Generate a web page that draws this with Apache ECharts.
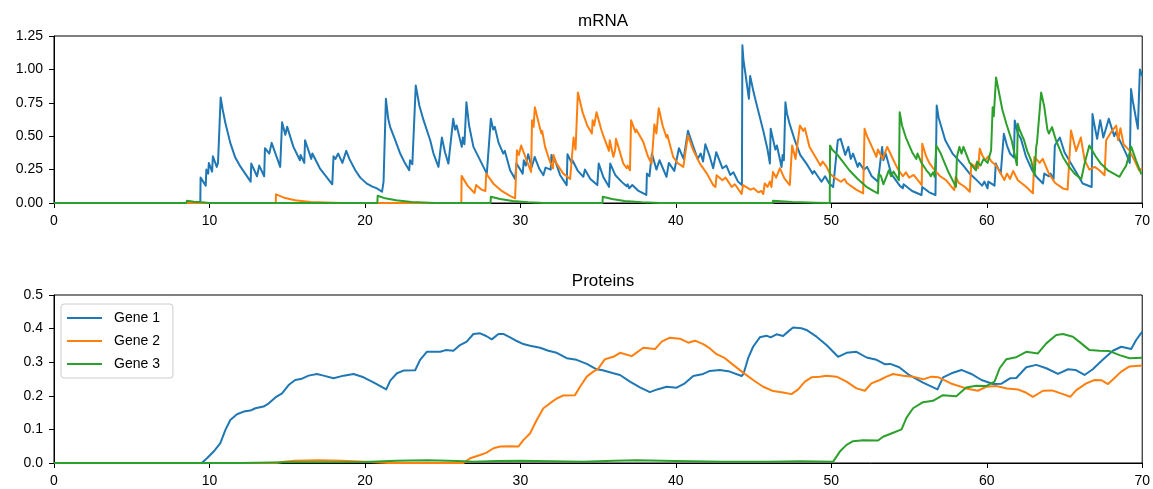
<!DOCTYPE html>
<html>
<head>
<meta charset="utf-8">
<script src="https://cdn.jsdelivr.net/npm/echarts@6/dist/echarts.min.js"></script>
<style>
  html, body { margin: 0; padding: 0; background: #fff; }
  #chart { width: 1153px; height: 489px; }
</style>
</head>
<body>
<div id="chart"></div>
<script>
// Stochastic gene-expression run: mRNA bursts (top) and protein levels (bottom), [time, level].
const geneNames = ['Gene 1', 'Gene 2', 'Gene 3'];
const geneColors = ['#1f77b4', '#ff7f0e', '#2ca02c'];

const mrnaGene1 = [
  [0,0],[9.41,0],[9.43,0.19],[9.76,0.13],[9.8,0.25],[9.92,0.22],[9.96,0.30],[10.17,0.235],[10.22,0.35],[10.47,0.27],
  [10.55,0.30],[10.6,0.29],[10.72,0.79],[10.85,0.70],[11.02,0.60],[11.34,0.45],[11.66,0.34],[11.95,0.28],[12.0,0.29],
  [12.3,0.22],[12.65,0.16],[12.69,0.295],[13.06,0.20],[13.2,0.28],[13.52,0.20],[13.57,0.41],[13.85,0.37],[14.0,0.45],
  [14.55,0.27],[14.67,0.605],[14.88,0.51],[15.0,0.57],[15.4,0.42],[15.82,0.32],[15.86,0.36],[16.1,0.30],[16.15,0.47],
  [16.55,0.33],[16.62,0.37],[17.1,0.26],[17.5,0.20],[17.55,0.21],[17.9,0.14],[17.98,0.35],[18.1,0.33],[18.28,0.37],
  [18.55,0.30],[18.8,0.39],[19.0,0.33],[19.38,0.245],[19.7,0.19],[20.1,0.147],[20.15,0.16],[20.45,0.125],[20.77,0.109],
  [21.1,0.084],[21.2,0.16],[21.35,0.78],[21.5,0.63],[21.62,0.57],[21.7,0.58],[21.95,0.47],[22.27,0.37],[22.59,0.295],
  [22.85,0.245],[22.9,0.32],[23.05,0.29],[23.27,0.88],[23.5,0.73],[23.77,0.62],[23.85,0.62],[24.2,0.47],[24.41,0.37],
  [24.73,0.27],[24.95,0.49],[25.15,0.38],[25.37,0.295],[25.68,0.63],[25.8,0.55],[25.9,0.58],[26.23,0.42],[26.3,0.49],[26.4,0.44],
  [26.53,0.754],[26.7,0.58],[26.98,0.42],[27.52,0.295],[27.84,0.22],[28.1,0.63],[28.25,0.55],[28.35,0.57],[28.6,0.45],[28.9,0.37],[29.0,0.39],
  [29.34,0.245],[29.66,0.18],[29.75,0.295],[30.15,0.22],[30.22,0.32],[30.35,0.28],[30.5,0.365],[30.73,0.27],[30.92,0.345],
  [31.2,0.26],[31.48,0.208],[31.62,0.265],[31.95,0.25],[32.0,0.36],[32.15,0.31],[32.2,0.33],[32.55,0.21],[32.98,0.134],[33.03,0.365],[33.3,0.30],
  [33.35,0.32],[33.7,0.24],[34.05,0.196],[34.1,0.19],[34.15,0.25],[34.5,0.18],[34.95,0.134],[35.04,0.295],[35.35,0.19],[35.7,0.121],[35.78,0.295],[36.1,0.21],[36.5,0.16],
  [36.84,0.125],[36.9,0.14],[37.0,0.11],[37.2,0.135],[37.6,0.09],[38.1,0.06],[38.14,0.22],[38.3,0.2],[38.46,0.37],[38.75,0.25],
  [38.95,0.32],[39.4,0.196],[39.55,0.3],[39.9,0.24],[40.2,0.41],[40.5,0.33],[40.78,0.54],[41.1,0.43],[41.4,0.33],
  [41.6,0.37],[41.75,0.31],[41.9,0.44],[42.19,0.345],[42.4,0.26],[42.6,0.38],[43.0,0.26],[43.25,0.28],[43.5,0.21],
  [43.7,0.23],[44.0,0.16],[44.25,0.134],[44.28,1.18],[44.35,1.07],[44.48,0.965],[44.7,0.78],[44.78,0.95],[45.0,0.83],[45.19,0.74],[45.62,0.543],
  [45.9,0.4],[46.05,0.295],[46.1,0.556],[46.4,0.4],[46.5,0.43],[46.8,0.27],[46.87,0.36],[46.95,0.32],[47.05,0.754],
  [47.15,0.67],[47.3,0.6],[47.65,0.47],[48.0,0.36],[48.4,0.295],[48.8,0.22],[48.9,0.24],[49.37,0.159],[49.6,0.2],[49.85,0.15],[50.12,0.119],
  [50.42,0.47],[50.6,0.48],[50.9,0.36],[51.1,0.42],[51.25,0.33],[51.4,0.37],[51.7,0.27],[51.8,0.3],[52.1,0.25],
  [52.3,0.27],[52.6,0.2],[53.0,0.16],[53.27,0.42],[53.35,0.32],[53.5,0.37],[53.85,0.22],[54.4,0.13],[54.6,0.11],
  [54.65,0.14],[55.2,0.09],[55.8,0.06],[55.85,0.12],[56.3,0.08],[56.7,0.06],[56.78,0.73],[56.9,0.64],[57.0,0.6],[57.33,0.47],[57.8,0.37],[58.47,0.283],
  [58.9,0.22],[59.24,0.184],[59.7,0.13],[59.85,0.16],[60.05,0.109],[60.1,0.16],[60.5,0.13],[60.58,0.295],[60.9,0.22],
  [61.1,0.518],[61.3,0.43],[61.5,0.37],[61.75,0.34],[61.8,0.617],[62.0,0.52],[62.2,0.48],[62.53,0.345],[62.9,0.25],[63.19,0.196],
  [63.62,0.146],[63.7,0.22],[64.0,0.2],[64.1,0.22],[64.3,0.18],[64.38,0.43],[64.7,0.49],[65.0,0.38],[65.4,0.3],
  [65.8,0.22],[66.17,0.146],[66.75,0.12],[66.8,0.667],[66.9,0.6],[67.1,0.48],[67.3,0.62],[67.5,0.49],[67.85,0.63],
  [68.2,0.5],[68.3,0.53],[68.76,0.42],[69.0,0.36],[69.2,0.3],[69.28,0.853],[69.4,0.76],[69.72,0.556],[69.85,1.0],[70,0.95]
];

const mrnaGene2 = [
  [0,0],[14.26,0],[14.28,0.065],[14.8,0.04],[15.5,0.02],[16.5,0.008],[17.5,0.003],[18.5,0],[26.2,0],[26.22,0.203],
  [26.6,0.13],[27.05,0.075],[27.15,0.134],[27.5,0.1],[27.75,0.09],[27.8,0.22],[28.3,0.14],[28.8,0.09],[29.3,0.055],
  [29.66,0.035],[29.78,0.394],[29.9,0.36],[30.05,0.43],[30.4,0.32],[30.69,0.233],[30.75,0.62],[30.85,0.57],[30.93,0.717],
  [31.27,0.556],[31.35,0.52],[31.4,0.54],[31.59,0.42],[31.91,0.307],[32.1,0.26],[32.13,0.36],[32.3,0.3],[32.76,0.22],
  [33.2,0.18],[33.42,0.49],[33.55,0.4],[33.7,0.828],[34.0,0.68],[34.3,0.58],[34.6,0.52],[34.65,0.62],[34.75,0.58],
  [34.9,0.68],[35.2,0.55],[35.44,0.47],[35.7,0.39],[35.75,0.47],[35.98,0.345],[36.1,0.4],[36.15,0.48],[36.62,0.295],
  [36.84,0.26],[36.9,0.28],[37.05,0.245],[37.12,0.62],[37.4,0.53],[37.45,0.55],[37.91,0.456],[38.2,0.35],[38.44,0.295],
  [38.62,0.59],[38.75,0.52],[38.9,0.71],[39.15,0.58],[39.4,0.49],[39.45,0.51],[39.83,0.345],[40.1,0.3],[40.2,0.31],
  [40.48,0.27],[40.78,0.506],[41.1,0.4],[41.55,0.295],[42.0,0.22],[42.4,0.134],[42.55,0.12],[42.62,0.208],[43.0,0.17],
  [43.2,0.19],[43.6,0.12],[43.8,0.14],[44.23,0.067],[44.32,0.134],[44.8,0.1],[45.0,0.11],[45.3,0.08],[45.5,0.09],
  [45.62,0.067],[45.72,0.146],[45.9,0.12],[46.05,0.16],[46.15,0.12],[46.25,0.233],[46.45,0.19],[46.69,0.26],[47.0,0.18],[47.33,0.134],
  [47.48,0.43],[47.7,0.33],[47.98,0.58],[48.2,0.54],[48.3,0.56],[48.6,0.42],[49.0,0.34],[49.3,0.28],[49.45,0.31],
  [49.7,0.27],[49.9,0.22],[50.2,0.19],[50.62,0.159],[50.85,0.18],[51.0,0.15],[51.6,0.1],[52.05,0.072],[52.14,0.556],[52.3,0.5],[52.5,0.45],
  [52.9,0.345],[53.0,0.4],[53.3,0.33],[53.6,0.42],[54.0,0.32],[54.3,0.25],[54.6,0.2],[54.8,0.23],[55.0,0.19],
  [55.3,0.21],[55.5,0.18],[55.82,0.134],[55.85,0.444],[56.1,0.35],[56.3,0.3],[56.65,0.245],[57.0,0.2],[57.38,0.171],[57.91,0.097],
  [58.0,0.196],[58.2,0.15],[58.6,0.12],[58.91,0.084],[59.0,0.295],[59.25,0.27],[59.35,0.3],[59.45,0.26],[59.55,0.407],
  [59.7,0.36],[59.9,0.32],[60.1,0.35],[60.3,0.31],[60.6,0.28],[60.7,0.29],[61.0,0.2],[61.13,0.171],[61.3,0.22],
  [61.5,0.18],[61.7,0.24],[62.0,0.17],[62.53,0.121],[62.97,0.072],[63.06,0.345],[63.4,0.3],[63.6,0.33],[64.0,0.22],
  [64.4,0.15],[64.9,0.109],[65.2,0.1],[65.42,0.543],[65.75,0.39],[66.05,0.49],[66.3,0.32],[66.6,0.25],[66.95,0.27],
  [67.3,0.24],[67.58,0.208],[67.68,0.47],[68.0,0.53],[68.33,0.58],[68.45,0.47],[68.6,0.56],[68.8,0.44],[69.17,0.394],
  [69.5,0.32],[69.8,0.245],[70,0.26]
];

const mrnaGene3 = [
  [0,0],[8.5,0],[8.55,0.017],[9.0,0.01],[9.5,0.005],[10,0],[20.8,0],[20.82,0.054],[21.3,0.035],[22,0.02],[23,0.008],
  [24.5,0],[28.08,0],[28.1,0.047],[28.7,0.03],[29.5,0.015],[30.5,0.005],[31.5,0],[35.28,0],[35.3,0.047],[35.9,0.03],
  [36.7,0.015],[37.8,0.005],[39,0],[46.23,0],[46.25,0.017],[47.5,0.008],[49,0.002],[49.9,0],[49.92,0.43],[50.05,0.4],
  [50.4,0.36],[50.8,0.3],[51.16,0.245],[51.7,0.18],[52.26,0.121],[52.7,0.09],[53.0,0.072],[53.05,0.22],[53.2,0.2],[53.35,0.14],
  [53.7,0.245],[53.85,0.2],[54.0,0.235],[54.35,0.171],[54.4,0.68],[54.55,0.58],[54.8,0.49],[55.2,0.38],[55.47,0.33],[55.55,0.37],
  [55.8,0.3],[56.12,0.245],[56.3,0.22],[56.4,0.2],[56.55,0.23],[56.65,0.196],[56.75,0.43],[57.0,0.38],[57.5,0.24],
  [58.02,0.121],[58.08,0.345],[58.24,0.42],[58.38,0.37],[58.5,0.42],[58.9,0.3],[59.31,0.245],[59.38,0.31],[59.6,0.28],
  [59.8,0.33],[60.05,0.3],[60.28,0.394],[60.38,0.717],[60.45,0.65],[60.6,0.94],[60.8,0.82],[61.0,0.7],[61.26,0.593],[61.6,0.47],
  [61.94,0.283],[62.0,0.593],[62.1,0.55],[62.4,0.47],[62.6,0.39],[62.85,0.32],[63.08,0.208],[63.18,0.42],[63.23,0.45],
  [63.5,0.828],[63.7,0.72],[63.9,0.55],[64.0,0.52],[64.2,0.568],[64.45,0.47],[64.9,0.345],[65.3,0.27],[65.65,0.22],
  [66.08,0.18],[66.3,0.3],[66.6,0.43],[67.0,0.35],[67.3,0.3],[67.79,0.245],[68.54,0.196],[68.75,0.24],[68.97,0.28],
  [69.3,0.42],[69.6,0.32],[69.93,0.22],[70,0.22]
];

const proteinGene1 = [
  [0,0],[9.5,0],[9.84,0.014],[10.27,0.034],[10.7,0.059],[11.02,0.098],[11.34,0.128],[11.77,0.145],[12.2,0.153],
  [12.63,0.156],[12.95,0.163],[13.48,0.168],[13.8,0.177],[14.24,0.195],[14.67,0.207],[15.09,0.232],[15.52,0.247],
  [15.95,0.251],[16.38,0.26],[16.91,0.265],[17.34,0.26],[17.98,0.252],[18.63,0.26],[19.27,0.265],[19.91,0.255],
  [20.55,0.24],[21.37,0.219],[21.63,0.245],[22.06,0.267],[22.48,0.275],[23.23,0.276],[23.55,0.307],[23.98,0.331],
  [24.84,0.331],[25.2,0.336],[25.69,0.334],[26.12,0.351],[26.55,0.361],[26.98,0.384],[27.41,0.386],[27.8,0.378],
  [28.16,0.368],[28.59,0.384],[28.9,0.384],[29.34,0.374],[29.77,0.363],[30.19,0.354],[30.62,0.349],[31.27,0.343],
  [31.8,0.334],[32.34,0.328],[32.98,0.312],[33.62,0.307],[34.27,0.295],[34.91,0.279],[35.3,0.276],[35.98,0.267],
  [36.41,0.262],[37.05,0.242],[37.69,0.225],[38.33,0.211],[38.8,0.219],[39.41,0.227],[40.05,0.224],[40.58,0.237],
  [41.12,0.259],[41.76,0.265],[42.19,0.274],[42.83,0.277],[43.47,0.272],[44.23,0.259],[44.35,0.265],[44.65,0.312],
  [44.97,0.346],[45.4,0.374],[45.83,0.379],[46.1,0.374],[46.48,0.383],[46.9,0.378],[47.22,0.391],[47.54,0.403],
  [48.08,0.401],[48.4,0.396],[49.05,0.376],[49.69,0.351],[50.12,0.331],[50.44,0.316],[50.98,0.328],[51.62,0.331],
  [52.27,0.314],[52.91,0.307],[53.44,0.294],[53.8,0.295],[54.37,0.285],[55.0,0.262],[55.9,0.239],[56.83,0.219],
  [57.19,0.255],[57.73,0.267],[58.37,0.277],[59.01,0.265],[59.66,0.247],[60.41,0.235],[60.95,0.236],[61.49,0.252],
  [61.9,0.253],[62.54,0.285],[63.19,0.292],[63.83,0.282],[64.58,0.265],[65.23,0.279],[65.7,0.277],[66.29,0.262],
  [66.82,0.279],[67.46,0.307],[68.11,0.334],[68.65,0.346],[69.29,0.339],[69.61,0.366],[70,0.391]
];

const proteinGene2 = [
  [0,0],[14.3,0],[14.8,0.004],[15.5,0.007],[17,0.008],[18.5,0.007],[20,0.004],[20.6,0.002],[21.5,0],[26.34,0],
  [26.77,0.014],[27.41,0.024],[27.8,0.03],[28.27,0.044],[28.7,0.049],[29.34,0.05],[29.87,0.049],[30.19,0.068],
  [30.62,0.088],[31.05,0.128],[31.48,0.163],[31.91,0.178],[32.34,0.192],[32.76,0.201],[33.51,0.202],[33.84,0.227],
  [34.27,0.257],[34.69,0.272],[35.0,0.28],[35.44,0.309],[35.98,0.316],[36.41,0.328],[37.16,0.318],[37.91,0.343],
  [38.66,0.339],[39.09,0.361],[39.62,0.373],[40.26,0.37],[40.8,0.358],[41.23,0.364],[41.76,0.354],[42.19,0.341],
  [42.62,0.324],[43.16,0.312],[43.69,0.292],[44.33,0.269],[44.97,0.247],[45.62,0.227],[46.26,0.214],[46.9,0.21],
  [47.44,0.205],[47.87,0.219],[48.3,0.242],[48.73,0.255],[49.27,0.257],[49.69,0.26],[50.34,0.257],[50.98,0.242],
  [51.62,0.222],[52.16,0.215],[52.58,0.237],[53.12,0.247],[53.55,0.257],[53.98,0.265],[54.62,0.26],[55.26,0.257],
  [55.9,0.249],[56.44,0.257],[56.9,0.255],[57.79,0.235],[58.68,0.222],[59.43,0.215],[59.96,0.227],[60.61,0.229],
  [61.3,0.222],[62.0,0.219],[62.54,0.209],[62.97,0.197],[63.62,0.215],[64.2,0.216],[64.9,0.205],[65.37,0.197],
  [65.76,0.217],[66.4,0.237],[66.94,0.247],[67.4,0.246],[67.79,0.235],[68.1,0.248],[68.65,0.272],[69.16,0.287],[70,0.29]
];

const proteinGene3 = [
  [0,0],[12,0],[15,0.002],[20,0.003],[22,0.007],[24,0.008],[26,0.006],[27,0.004],[28.5,0.006],[30,0.007],[32,0.005],
  [34,0.004],[36,0.007],[37.5,0.008],[40,0.006],[43,0.004],[46,0.004],[48,0.005],[50.12,0.004],[50.55,0.034],
  [50.98,0.054],[51.4,0.065],[52.05,0.068],[53.01,0.067],[53.33,0.078],[53.98,0.09],[54.52,0.1],[54.84,0.135],
  [55.26,0.163],[55.9,0.181],[56.54,0.185],[57.18,0.202],[58.04,0.199],[58.68,0.225],[59.32,0.23],[59.96,0.229],
  [60.5,0.242],[60.83,0.282],[61.26,0.309],[61.9,0.315],[62.54,0.331],[63.29,0.326],[63.83,0.356],[64.47,0.381],
  [64.9,0.384],[65.54,0.376],[66.08,0.356],[66.61,0.336],[67.26,0.334],[67.9,0.333],[68.54,0.321],[69.19,0.312],[70,0.313]
];

const mrnaSeries = [mrnaGene1, mrnaGene2, mrnaGene3];
const proteinSeries = [proteinGene1, proteinGene2, proteinGene3];

const FONT = '"Liberation Sans", Arial, sans-serif';
const chart = echarts.init(document.getElementById('chart'), null, { renderer: 'canvas' });

function xAxisFor(gridIndex) {
  return {
    type: 'value', gridIndex, min: 0, max: 70, interval: 10,
    axisLine: { show: true, lineStyle: { color: '#000', width: 1 } },
    axisTick: { show: true, length: 5, lineStyle: { color: '#000' } },
    axisLabel: { color: '#000', fontSize: 14, fontFamily: FONT, margin: 11 },
    splitLine: { show: false }
  };
}
function yAxisFor(gridIndex, max, interval, digits) {
  return {
    type: 'value', gridIndex, min: 0, max, interval,
    axisLine: { show: true, lineStyle: { color: '#000', width: 1 } },
    axisTick: { show: true, length: 5, lineStyle: { color: '#000' } },
    axisLabel: { color: '#000', fontSize: 14, fontFamily: FONT, margin: 11,
      formatter: v => v.toFixed(digits) },
    splitLine: { show: false }
  };
}
function lineSeries(name, data, color, idx) {
  return {
    name, type: 'line', data, xAxisIndex: idx, yAxisIndex: idx,
    showSymbol: false, symbol: 'none', smooth: false,
    lineStyle: { color, width: 2, join: 'round' },
    itemStyle: { color },
    emphasis: { disabled: true }
  };
}

const series = [];
geneNames.forEach((n, i) => series.push(lineSeries(n, mrnaSeries[i], geneColors[i], 0)));
geneNames.forEach((n, i) => series.push(lineSeries(n, proteinSeries[i], geneColors[i], 1)));

chart.setOption({
  animation: false,
  backgroundColor: '#fff',
  title: [
    { text: 'mRNA', left: 598, top: 8, textAlign: 'center',
      textStyle: { fontFamily: FONT, fontSize: 17, fontWeight: 'normal', color: '#000' } },
    { text: 'Proteins', left: 598, top: 268, textAlign: 'center',
      textStyle: { fontFamily: FONT, fontSize: 17, fontWeight: 'normal', color: '#000' } }
  ],
  legend: {
    data: geneNames, orient: 'vertical', left: 61, top: 304,
    icon: 'rect', itemWidth: 35, itemHeight: 2, itemGap: 7,
    padding: [6, 13, 6, 6],
    borderColor: '#cccccc', borderWidth: 1, borderRadius: 3, backgroundColor: 'rgba(255,255,255,0.8)',
    selectedMode: false,
    textStyle: { fontFamily: FONT, fontSize: 14, color: '#000', lineHeight: 16, padding: [0, 0, 0, 7] }
  },
  grid: [
    { left: 54, top: 36, width: 1089, height: 167, show: true, borderColor: '#000', borderWidth: 1 },
    { left: 54, top: 295, width: 1089, height: 168, show: true, borderColor: '#000', borderWidth: 1 }
  ],
  xAxis: [xAxisFor(0), xAxisFor(1)],
  yAxis: [yAxisFor(0, 1.25, 0.25, 2), yAxisFor(1, 0.5, 0.1, 1)],
  series
});
</script>
</body>
</html>
